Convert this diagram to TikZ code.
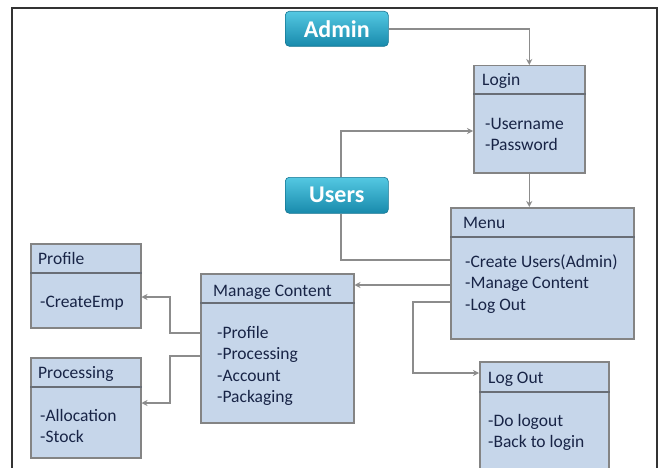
\documentclass[tikz,border=0pt]{standalone}
\usepackage{fontspec}
\setmainfont{Carlito}
\usetikzlibrary{arrows.meta}
\definecolor{boxfill}{RGB}{198,214,234}
\definecolor{boxline}{RGB}{132,132,132}
\definecolor{divline}{RGB}{105,110,118}
\definecolor{txtblue}{RGB}{24,36,70}
\definecolor{linegray}{RGB}{140,140,140}
\definecolor{tealtop}{RGB}{84,200,226}
\definecolor{tealbot}{RGB}{24,138,172}
\begin{document}
\begin{tikzpicture}[x=1pt, y=-1pt,
		classbox/.style={draw=boxline, fill=boxfill, line width=1.5pt, inner sep=0pt, anchor=north west},
		divider/.style={draw=divline, line width=2pt},
		hdr/.style={anchor=base west, inner sep=0pt, text=txtblue, font=\fontsize{17.5}{21}\selectfont},
		items/.style={anchor=north west, inner sep=0pt, align=left, text=txtblue, font=\fontsize{17.5}{21.5}\selectfont},
		pill/.style={rounded corners=4pt, top color=tealtop, bottom color=tealbot, draw=tealbot!85!black, line width=0.6pt, text=white, font=\fontsize{24}{26}\selectfont\bfseries, inner sep=0pt, anchor=north west},
		conn/.style={draw=linegray, line width=1.5pt},
		arr/.style={conn, -{Stealth[length=6pt, width=6pt]}}]

	\useasboundingbox[fill=white] (0,0) rectangle (661,468);
	\draw[line width=1.2pt, black!80]	(12,470) -- (12,8) -- (657,8) -- (657,470);

	% actors
	\node[pill, minimum width=103pt, minimum height=35pt] (admin) at (285,11) {Admin};
	\node[pill, minimum width=103pt, minimum height=36pt] (users) at (285,177) {Users};

	% class boxes
	\node[classbox, minimum width=111pt, minimum height=107pt] (login) at (473,65) {};
	\draw[divider]	(login.west |- 0,94) -- (login.east |- 0,94);
	\node[hdr] (loginhdr) at (482,86) {Login};
	\node[items] (loginitems) at (485,118) {-Username\\-Password};

	\node[classbox, minimum width=183pt, minimum height=131pt] (menu) at (450,207) {};
	\draw[divider]	(menu.west |- 0,237) -- (menu.east |- 0,237);
	\node[hdr] (menuhdr) at (463,228) {Menu};
	\node[items] (menuitems) at (465,254) {-Create Users(Admin)\\-Manage Content\\-Log Out};

	\node[classbox, minimum width=153pt, minimum height=149pt] (mc) at (200,273) {};
	\draw[divider]	(mc.west |- 0,303) -- (mc.east |- 0,303);
	\node[hdr] (mchdr) at (213,296) {Manage Content};
	\node[items] (mcitems) at (217,326) {-Profile\\-Processing\\-Account\\-Packaging};

	\node[classbox, minimum width=110pt, minimum height=84pt] (profile) at (30,243) {};
	\draw[divider]	(profile.west |- 0,273) -- (profile.east |- 0,273);
	\node[hdr] (profilehdr) at (38,264) {Profile};
	\node[items] (profileitems) at (40,296) {-CreateEmp};

	\node[classbox, minimum width=110pt, minimum height=100pt] (processing) at (30,357) {};
	\draw[divider]	(processing.west |- 0,387) -- (processing.east |- 0,387);
	\node[hdr] (processinghdr) at (38,378) {Processing};
	\node[items] (processingitems) at (40,409) {-Allocation\\-Stock};

	\node[classbox, minimum width=129pt, minimum height=115pt] (logout) at (479,361) {};
	\draw[divider]	(logout.west |- 0,392) -- (logout.east |- 0,392);
	\node[hdr] (logouthdr) at (488,383) {Log Out};
	\node[items] (logoutitems) at (488,414) {-Do logout\\-Back to login};

	% connectors
	\draw[arr]	(admin.east) -| (login.north);
	\draw[arr]	([xshift=4pt]users.north) |- (login.west |- 0,131);
	\draw[arr]	(login.south) -- (login.south |- menu.north);
	\draw[conn]	([xshift=4pt]users.south) |- (menu.west |- 0,260);
	\draw[arr]	(menu.west |- 0,285) -- (mc.east |- 0,285);
	\draw[arr]	(menu.west |- 0,302) -- (413,302) |- (logout.west |- 0,373);
	\draw[arr]	(mc.west |- 0,333) -- (170,333) |- (profile.east |- 0,297);
	\draw[arr]	(mc.west |- 0,356) -- (170,356) |- (processing.east |- 0,403);
\end{tikzpicture}
\end{document}
